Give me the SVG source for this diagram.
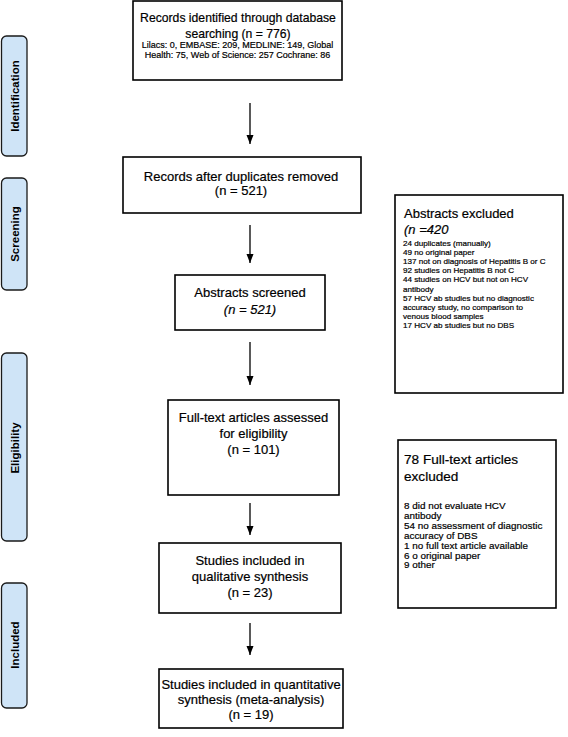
<svg xmlns="http://www.w3.org/2000/svg" width="568" height="737" viewBox="0 0 568 737">
<style>
text{font-family:"Liberation Sans",Arial,sans-serif;fill:#000;stroke:#000;stroke-width:0.2}
.box{fill:#fff;stroke:#000;stroke-width:1.6}
.side{fill:#cfe4f7;stroke:#1a1a1a;stroke-width:1.3}
.st{font-size:11.5px;font-weight:bold;text-anchor:middle;stroke-width:0}
.m{font-size:13px;text-anchor:middle}
.t1{font-size:12.2px;text-anchor:middle}
.sm{font-size:9px;text-anchor:middle}
.h{font-size:13px}
.h2{font-size:13.6px}
.l1{font-size:8.1px}
.l2{font-size:9.9px}
.it{font-style:italic}
.con{stroke:#000;stroke-width:1.3;fill:none;marker-end:url(#ah)}
</style>
<defs>
<marker id="ah" markerUnits="userSpaceOnUse" markerWidth="9" markerHeight="8" refX="9" refY="4" orient="auto">
<path d="M0,0.5 L9,4 L0,7.5 z" fill="#000"/>
</marker>
</defs>
<rect width="568" height="737" fill="#fff"/>
<g id="phase-identification">
<rect class="side" x="1.5" y="36" width="25.5" height="120" rx="5"/>
<text class="st" transform="translate(19,96) rotate(-90)">Identification</text>
</g>
<g id="phase-screening">
<rect class="side" x="1.5" y="178" width="25.5" height="112" rx="5"/>
<text class="st" transform="translate(19,234) rotate(-90)">Screening</text>
</g>
<g id="phase-eligibility">
<rect class="side" x="1.5" y="353" width="25.5" height="188" rx="5"/>
<text class="st" transform="translate(19,448) rotate(-90)">Eligibility</text>
</g>
<g id="phase-included">
<rect class="side" x="1.5" y="583" width="25.5" height="125" rx="5"/>
<text class="st" transform="translate(19,645) rotate(-90)">Included</text>
</g>
<g id="records-identified">
<rect class="box" x="133" y="1" width="209" height="79"/>
<text class="t1" x="238" y="22">Records identified through database</text>
<text class="t1" x="238" y="37.5">searching (n = 776)</text>
<text class="sm" x="237.5" y="48">Lilacs: 0, EMBASE: 209, MEDLINE: 149, Global</text>
<text class="sm" x="237.5" y="58">Health: 75, Web of Science: 257 Cochrane: 86</text>
</g>
<g id="records-after-duplicates">
<rect class="box" x="123" y="157" width="238" height="56"/>
<text class="m" x="241" y="181">Records after duplicates removed</text>
<text class="m" x="241" y="195">(n = 521)</text>
</g>
<g id="abstracts-screened">
<rect class="box" x="175" y="275" width="150" height="55"/>
<text class="m" x="250" y="297">Abstracts screened</text>
<text class="m it" x="250" y="314">(n = 521)</text>
</g>
<g id="fulltext-assessed">
<rect class="box" x="168" y="400" width="171" height="95"/>
<text class="m" x="253.5" y="422">Full-text articles assessed</text>
<text class="m" x="253.5" y="438">for eligibility</text>
<text class="m" x="253.5" y="454">(n = 101)</text>
</g>
<g id="qualitative-synthesis">
<rect class="box" x="159" y="543" width="182" height="70"/>
<text class="m" x="250" y="565">Studies included in</text>
<text class="m" x="250" y="581">qualitative synthesis</text>
<text class="m" x="250" y="597">(n = 23)</text>
</g>
<g id="quantitative-synthesis">
<rect class="box" x="159" y="669" width="184" height="59"/>
<text class="m" x="251" y="689">Studies included in quantitative</text>
<text class="m" x="251" y="704">synthesis (meta-analysis)</text>
<text class="m" x="251" y="719">(n = 19)</text>
</g>
<g id="abstracts-excluded">
<rect class="box" x="395" y="195" width="168" height="198"/>
<text class="h" x="404" y="218">Abstracts excluded</text>
<text class="h it" x="404" y="234">(n =420</text>
<text class="l1" x="403" y="246">24 duplicates (manually)</text>
<text class="l1" x="403" y="255.1">49  no original paper</text>
<text class="l1" x="403" y="264.2">137 not on diagnosis of Hepatitis B or C</text>
<text class="l1" x="403" y="273.3">92 studies on  Hepatitis B not C</text>
<text class="l1" x="403" y="282.4">44 studies on HCV but not on HCV</text>
<text class="l1" x="403" y="291.5">antibody</text>
<text class="l1" x="403" y="300.6">57 HCV ab studies but  no diagnostic</text>
<text class="l1" x="403" y="309.7">accuracy study, no comparison to</text>
<text class="l1" x="403" y="318.8">venous blood samples</text>
<text class="l1" x="403" y="327.9">17 HCV ab studies but no DBS</text>
</g>
<g id="fulltext-excluded">
<rect class="box" x="398" y="440" width="158" height="168"/>
<text class="h2" x="404" y="464">78 Full-text articles</text>
<text class="h2" x="404" y="481">excluded</text>
<text class="l2" x="404" y="509">8 did not evaluate  HCV</text>
<text class="l2" x="404" y="518.9">antibody</text>
<text class="l2" x="404" y="528.8">54 no assessment of diagnostic</text>
<text class="l2" x="404" y="538.7">accuracy of DBS</text>
<text class="l2" x="404" y="548.6">1 no full text article available</text>
<text class="l2" x="404" y="558.5">6 o original paper</text>
<text class="l2" x="404" y="568.4">9 other</text>
</g>
<g id="connectors">
<line class="con" x1="250" y1="103" x2="250" y2="144"/>
<line class="con" x1="250" y1="225" x2="250" y2="263"/>
<line class="con" x1="250" y1="342" x2="250" y2="385"/>
<line class="con" x1="250" y1="503" x2="250" y2="535"/>
<line class="con" x1="250" y1="623" x2="250" y2="655"/>
</g>
</svg>
